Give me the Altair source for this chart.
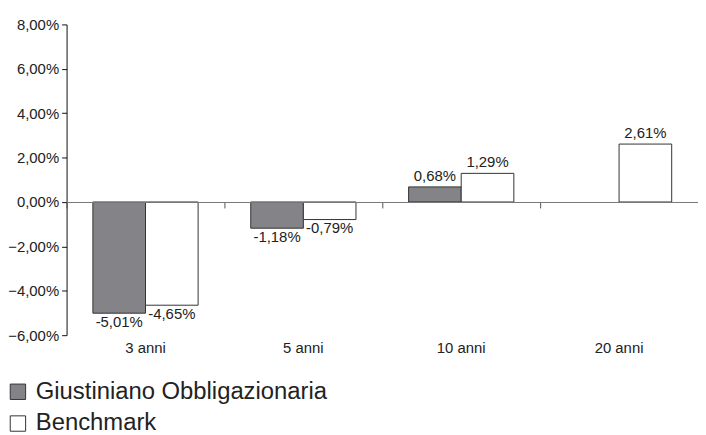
import altair as alt
import pandas as pd

categories = ["3 anni", "5 anni", "10 anni", "20 anni"]
series = ["Giustiniano Obbligazionaria", "Benchmark"]
fund = [-5.01, -1.18, 0.68, None]
bench = [-4.65, -0.79, 1.29, 2.61]
y_ticks = [-6, -4, -2, 0, 2, 4, 6, 8]
colors = ["#848488", "#ffffff"]

rows = []
for c, f, b in zip(categories, fund, bench):
    for s, v in ((series[0], f), (series[1], b)):
        if v is None:
            continue
        rows.append({"cat": c, "series": s, "value": v,
                     "label": f"{v:.2f}".replace(".", ",") + "%"})
df = pd.DataFrame(rows)

W, H = 636, 313
FONT = "Liberation Sans"
FS = 15
zero_offset = -H * 6 / 14

yenc = alt.Y("value:Q",
             scale=alt.Scale(domain=[-6, 8], nice=False, zero=False),
             axis=alt.Axis(values=y_ticks, grid=False, title=None,
                           labelExpr="replace(format(datum.value, '.2f'), '.', ',') + '%'",
                           labelFont=FONT, labelFontSize=FS, labelColor="#222",
                           domainColor="#111", tickColor="#111", tickSize=5,
                           labelPadding=3))
xscale = alt.Scale(paddingInner=0, paddingOuter=0)
xoff = alt.XOffset("series:N", sort=series,
                   scale=alt.Scale(paddingInner=0, paddingOuter=0.5))

base = alt.Chart(df)

bars = base.mark_bar(stroke="#333", strokeWidth=1).encode(
    x=alt.X("cat:N", sort=categories, scale=xscale,
            axis=alt.Axis(title=None, orient="bottom", domain=False, ticks=False,
                          labelAngle=0, labelFont=FONT, labelFontSize=FS,
                          labelColor="#222", labelPadding=5)),
    xOffset=xoff,
    y=yenc,
    color=alt.Color("series:N", sort=series,
                    scale=alt.Scale(domain=series, range=colors),
                    legend=alt.Legend(title=None, orient="none", legendX=-61,
                                      legendY=358, direction="vertical",
                                      symbolType="square", symbolSize=240,
                                      symbolStrokeColor="#333",
                                      symbolStrokeWidth=1,
                                      labelFont=FONT, labelFontSize=24,
                                      labelColor="#222", rowPadding=8,
                                      labelOffset=6, labelLimit=0)),
)

pos_text = base.transform_filter("datum.value >= 0").mark_text(
    baseline="bottom", dy=-3, font=FONT, fontSize=FS, color="#222").encode(
    x=alt.X("cat:N", sort=categories, scale=xscale,
            axis=alt.Axis(title=None, orient="bottom", labels=False, domain=True,
                          domainColor="#777", ticks=True, tickBand="extent",
                          tickColor="#555", tickSize=6, offset=zero_offset,
                          zindex=1)),
    xOffset=xoff,
    y=yenc,
    text="label:N",
)

neg_text = base.transform_filter("datum.value < 0").mark_text(
    baseline="top", dy=2, font=FONT, fontSize=FS, color="#222").encode(
    x=alt.X("cat:N", sort=categories, scale=xscale, axis=None),
    xOffset=xoff,
    y=yenc,
    text="label:N",
)

chart = alt.layer(bars, pos_text, neg_text).resolve_axis(x="independent").properties(
    width=W, height=H,
    autosize=alt.AutoSizeParams(type="none"),
    padding={"left": 59, "top": 15, "right": 0, "bottom": 99},
    background="white",
).configure_view(stroke=None)

chart.save("out.html", embed_options={"renderer": "svg", "actions": False})
